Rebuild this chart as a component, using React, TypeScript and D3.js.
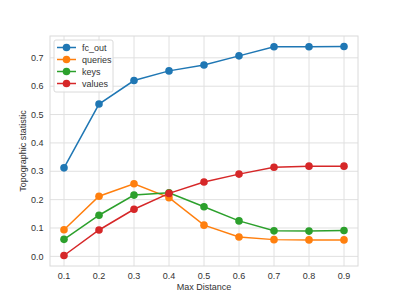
import { useEffect, useRef } from 'react'
import * as d3 from 'd3'

const distances = [0.1, 0.2, 0.3, 0.4, 0.5, 0.6, 0.7, 0.8, 0.9]
const fcOut = [0.312, 0.537, 0.62, 0.654, 0.675, 0.707, 0.739, 0.739, 0.740]
const queries = [0.094, 0.212, 0.256, 0.207, 0.110, 0.068, 0.059, 0.058, 0.058]
const keys = [0.060, 0.145, 0.216, 0.224, 0.175, 0.125, 0.090, 0.089, 0.091]
const values = [0.003, 0.093, 0.166, 0.222, 0.262, 0.290, 0.314, 0.318, 0.318]
const seriesNames = ['fc_out', 'queries', 'keys', 'values']
const yTicks = [0, 0.1, 0.2, 0.3, 0.4, 0.5, 0.6, 0.7]

function App() {
  const svgRef = useRef(null)

  useEffect(() => {
    const width = 398
    const height = 299
    const margin = { top: 36, right: 40, bottom: 33, left: 50 }
    const chartWidth = width - margin.left - margin.right
    const chartHeight = height - margin.top - margin.bottom
    const font = '"Liberation Sans", Arial, sans-serif'
    const colors = ['#1f77b4', '#ff7f0e', '#2ca02c', '#d62728']

    const svg = d3.select(svgRef.current)
    svg.selectAll('*').remove()
    svg.attr('width', width).attr('height', height)
      .style('font-family', font)

    const g = svg.append('g')
      .attr('transform', `translate(${margin.left},${margin.top})`)

    const x = d3.scaleLinear().domain([0.06, 0.94]).range([0, chartWidth])
    const y = d3.scaleLinear().domain([-0.034, 0.777]).range([chartHeight, 0])

    // Grid
    g.append('g')
      .selectAll('line')
      .data(distances)
      .enter().append('line')
      .attr('x1', d => x(d)).attr('x2', d => x(d))
      .attr('y1', 0).attr('y2', chartHeight)
      .attr('stroke', '#e0e0e0').attr('stroke-width', 1)

    g.append('g')
      .selectAll('line')
      .data(yTicks)
      .enter().append('line')
      .attr('x1', 0).attr('x2', chartWidth)
      .attr('y1', d => y(d)).attr('y2', d => y(d))
      .attr('stroke', '#e0e0e0').attr('stroke-width', 1)

    g.append('rect')
      .attr('width', chartWidth).attr('height', chartHeight)
      .attr('fill', 'none').attr('stroke', '#dadada').attr('stroke-width', 1)

    // Tick labels
    g.append('g')
      .selectAll('text')
      .data(distances)
      .enter().append('text')
      .attr('x', d => x(d))
      .attr('y', chartHeight + 12.5)
      .attr('text-anchor', 'middle')
      .attr('font-size', 9)
      .attr('fill', '#333')
      .text(d => d.toFixed(1))

    g.append('g')
      .selectAll('text')
      .data(yTicks)
      .enter().append('text')
      .attr('x', -6.5)
      .attr('y', d => y(d))
      .attr('dy', '0.35em')
      .attr('text-anchor', 'end')
      .attr('font-size', 9)
      .attr('fill', '#333')
      .text(d => d.toFixed(1))

    // Axis labels
    svg.append('text')
      .attr('x', margin.left + chartWidth / 2)
      .attr('y', height - 9)
      .attr('text-anchor', 'middle')
      .attr('font-size', 9)
      .attr('fill', '#333')
      .text('Max Distance')

    svg.append('text')
      .attr('transform', `translate(26,${margin.top + chartHeight / 2}) rotate(-90)`)
      .attr('text-anchor', 'middle')
      .attr('font-size', 9)
      .attr('fill', '#333')
      .text('Topographic statistic')

    // Lines
    const allSeries = [fcOut, queries, keys, values]
    const line = d3.line<number>()
      .x((d, i) => x(distances[i]))
      .y(d => y(d))

    allSeries.forEach((s, k) => {
      g.append('path')
        .datum(s)
        .attr('fill', 'none')
        .attr('stroke', colors[k])
        .attr('stroke-width', 1.5)
        .attr('d', line)

      g.selectAll(`.pt-${k}`)
        .data(s)
        .enter().append('circle')
        .attr('class', `pt-${k}`)
        .attr('cx', (d, i) => x(distances[i]))
        .attr('cy', d => y(d))
        .attr('r', 3.8)
        .attr('fill', colors[k])
    })

    // Legend
    const legend = svg.append('g')
      .attr('transform', 'translate(54,40)')

    legend.append('rect')
      .attr('width', 59).attr('height', 52)
      .attr('rx', 2)
      .attr('fill', 'white').attr('fill-opacity', 0.8)
      .attr('stroke', '#dadada')

    seriesNames.forEach((name, i) => {
      const item = legend.append('g')
        .attr('transform', `translate(0,${7.5 + i * 12})`)
      item.append('line')
        .attr('x1', 3).attr('x2', 22)
        .attr('stroke', colors[i]).attr('stroke-width', 1.5)
      item.append('circle')
        .attr('cx', 12.5).attr('r', 3.8)
        .attr('fill', colors[i])
      item.append('text')
        .attr('x', 28)
        .attr('dy', '0.35em')
        .attr('font-size', 9)
        .attr('fill', '#333')
        .text(name)
    })
  }, [])

  return (
    <div style={{ position: 'absolute', left: 0, top: 0 }}>
      <svg ref={svgRef}></svg>
    </div>
  )
}

export default App
